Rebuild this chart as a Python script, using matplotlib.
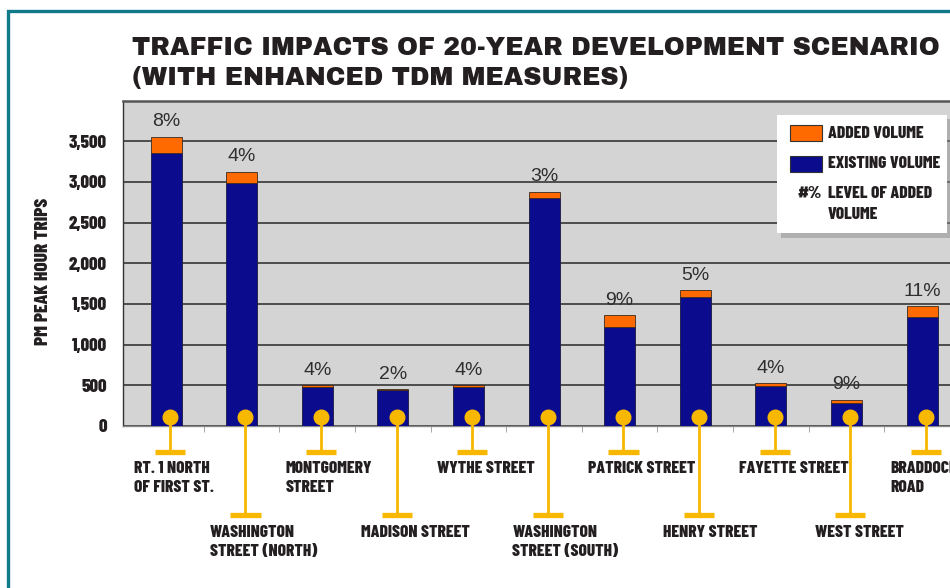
import numpy as np
import matplotlib
matplotlib.use('Agg')
import matplotlib.pyplot as plt
import matplotlib.transforms as mtransforms
from matplotlib.patches import Rectangle

# ------------------------------------------------------------
# data
streets = ['RT. 1 NORTH\nOF FIRST ST.', 'WASHINGTON\nSTREET (NORTH)',
           'MONTGOMERY\nSTREET', 'MADISON STREET', 'WYTHE STREET',
           'WASHINGTON\nSTREET (SOUTH)', 'PATRICK STREET', 'HENRY STREET',
           'FAYETTE STREET', 'WEST STREET', 'BRADDOCK\nROAD']
existing = [3360, 2990, 480, 440, 485, 2800, 1220, 1580, 490, 280, 1340]
added = [196, 136, 20, 9, 20, 80, 145, 90, 38, 45, 135]
pct_labels = ['8%', '4%', '4%', '2%', '4%', '3%', '9%', '5%', '4%', '9%', '11%']
yticks = [0, 500, 1000, 1500, 2000, 2500, 3000, 3500]

BLUE = '#0b0b8e'
ORANGE = '#ff6a00'
YELLOW = '#f8b800'
TEAL = '#10798a'
INK = '#231f20'

COND = ['Barlow Condensed', 'DejaVu Sans']
TITLE = ['Archivo Black', 'DejaVu Sans']

W, H = 950, 588


def fx(px):
    return px / W


def fy(py):
    return 1 - py / H


fig = plt.figure(figsize=(W / 100, H / 100), dpi=100)
fig.patch.set_facecolor('white')

# teal frame of the page
fig.add_artist(Rectangle((fx(7.5), fy(600)), fx(1000), fy(10.5) - fy(600),
                         transform=fig.transFigure, fill=False,
                         edgecolor=TEAL, lw=2.4))

# title
fig.text(fx(132), fy(55), 'TRAFFIC IMPACTS OF 20-YEAR DEVELOPMENT SCENARIO',
         family=TITLE, fontsize=18.2, color=INK, va='baseline')
fig.text(fx(132), fy(85), '(WITH ENHANCED TDM MEASURES)',
         family=TITLE, fontsize=18.2, color=INK, va='baseline')

# ------------------------------------------------------------
# bars
ax = fig.add_axes([fx(123), fy(426), fx(950) - fx(123), fy(100.5) - fy(426)])
ax.set_facecolor('#d4d4d4')
x = np.arange(len(streets))
ax.bar(x, existing, width=0.41, color=BLUE, edgecolor='#1a1a40', lw=0.6,
       zorder=3)
ax.bar(x, added, bottom=existing, width=0.41, color=ORANGE,
       edgecolor='#3a2a20', lw=0.6, zorder=3)

for xi, e, a, p in zip(x, existing, added, pct_labels):
    ax.annotate(p, (xi, e + a), xytext=(0, 4.5), textcoords='offset points',
                ha='center', va='bottom', fontsize=14, color='#2e2e2e',
                family='Liberation Sans')

ax.set_xlim(-0.57, 10.37)
ax.set_ylim(0, 4000)
ax.set_yticks(yticks)
ax.set_yticklabels(['{:,}'.format(v) for v in yticks], family=COND,
                   weight=800, fontsize=13.5, color=INK)
ax.tick_params(axis='y', length=0, pad=11.5)
ax.set_xticks([])
ax.set_xticks(np.arange(0.5, len(streets) - 0.5), minor=True)
ax.tick_params(axis='x', which='minor', length=4, color='#999999',
               direction='out')
ax.yaxis.grid(True, color='#4d4d4d', lw=1.4)
ax.set_axisbelow(True)
ax.spines['top'].set_color('#555555')
ax.spines['top'].set_linewidth(1.8)
ax.spines['left'].set_color('#333333')
ax.spines['left'].set_linewidth(1.0)
ax.spines['right'].set_visible(False)
ax.spines['bottom'].set_color('#8a8a8a')
ax.spines['bottom'].set_linewidth(1.0)

fig.text(fx(43), fy(271), 'PM PEAK HOUR TRIPS', rotation=90, ha='center',
         va='center', family=COND, weight=800, fontsize=14, color=INK)

# ------------------------------------------------------------
# callout pins and street names
trans = mtransforms.blended_transform_factory(ax.transData, fig.transFigure)
for i, (xi, name) in enumerate(zip(x, streets)):
    cx = xi + 0.05
    end = 452 if i % 2 == 0 else 515
    top = 461 if i % 2 == 0 else 525
    ax.plot([cx, cx], [fy(417), fy(end)], transform=trans, color=YELLOW,
            lw=2, clip_on=False, zorder=6)
    ax.plot([cx - 0.2, cx + 0.2], [fy(end), fy(end)], transform=trans,
            color=YELLOW, lw=3.8, solid_capstyle='butt', clip_on=False,
            zorder=6)
    ax.plot(cx, fy(417), 'o', ms=10.5, color=YELLOW, mec=YELLOW,
            transform=trans, clip_on=False, zorder=7)
    ax.text(cx - 0.47, fy(top), name, transform=trans, ha='left', va='top',
            family=COND, weight=800, fontsize=12.5, color=INK,
            linespacing=1.3, clip_on=False)

# ------------------------------------------------------------
# legend box
fig.add_artist(Rectangle((fx(781), fy(238)), fx(947) - fx(777),
                         fy(119) - fy(238), transform=fig.transFigure,
                         color='#8c8c8c', alpha=0.5, lw=0, zorder=8))
fig.add_artist(Rectangle((fx(777), fy(233)), fx(947) - fx(777),
                         fy(115) - fy(233), transform=fig.transFigure,
                         facecolor='white', edgecolor='none', zorder=9))
for yc, col in [(133, ORANGE), (164, BLUE)]:
    fig.add_artist(Rectangle((fx(790), fy(yc + 8)), fx(32), fy(0) - fy(16),
                             transform=fig.transFigure, facecolor=col,
                             edgecolor='#333333', lw=0.8, zorder=10))
legend_kw = dict(family=COND, weight=800, fontsize=12.5, color=INK,
                 va='center', zorder=11)
fig.text(fx(828), fy(133), 'ADDED VOLUME', **legend_kw)
fig.text(fx(828), fy(164), 'EXISTING VOLUME', **legend_kw)
fig.text(fx(822), fy(193), '#%', ha='right', **legend_kw)
fig.text(fx(828), fy(193), 'LEVEL OF ADDED', **legend_kw)
fig.text(fx(828), fy(214), 'VOLUME', **legend_kw)

fig.savefig('out.png', dpi=100)
